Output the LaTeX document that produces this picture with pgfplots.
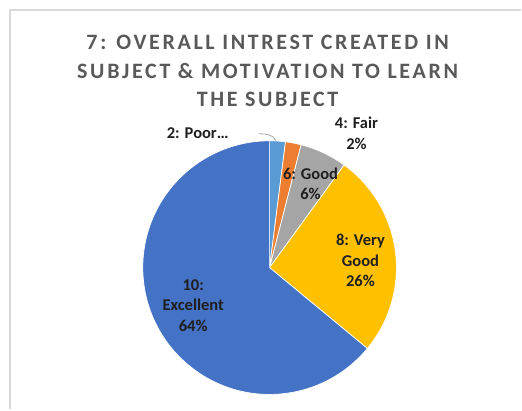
\documentclass[border=0pt]{standalone}
\usepackage{pgfplots}
\usepackage{pgfplotstable}
\usepackage{fontspec}
\pgfplotsset{compat=1.18}
\setmainfont{Carlito}
\newfontfamily\titlefont[LetterSpace=12]{Carlito}
\definecolor{cPoor}{HTML}{5B9BD5}
\definecolor{cFair}{HTML}{ED7D31}
\definecolor{cGood}{HTML}{A5A5A5}
\definecolor{cVeryGood}{HTML}{FFC000}
\definecolor{cExcellent}{HTML}{4472C4}
\definecolor{titlegray}{HTML}{595959}
\definecolor{labeltext}{HTML}{1F1F1F}
\definecolor{framegray}{HTML}{D9D9D9}

\pgfplotstableread{
label pct
Poor 2
Fair 2
Good 6
VeryGood 26
Excellent 64
}\piedata

\def\cum{90}
\pgfplotstableforeachcolumnelement{pct}\of\piedata\as\p{%
  \pgfmathsetmacro\ea{\cum-3.6*\p}%
  \expandafter\xdef\csname sa\pgfplotstablerow\endcsname{\cum}%
  \expandafter\xdef\csname ea\pgfplotstablerow\endcsname{\ea}%
  \xdef\cum{\ea}%
}
\expandafter\def\csname col0\endcsname{cPoor}
\expandafter\def\csname col1\endcsname{cFair}
\expandafter\def\csname col2\endcsname{cGood}
\expandafter\def\csname col3\endcsname{cVeryGood}
\expandafter\def\csname col4\endcsname{cExcellent}

\begin{document}
\begin{tikzpicture}
\begin{axis}[
  hide axis,
  scale only axis,
  x=1pt, y=1pt,
  xmin=0, xmax=522, ymin=0, ymax=410,
  clip=false,
]
\path (axis cs:0,0) rectangle (axis cs:522,410);
\draw[framegray, line width=1.5pt] (axis cs:10,0) -- (axis cs:10,400) -- (axis cs:522,400);
\pgfplotsinvokeforeach{0,...,4}{%
  \filldraw[fill=\csname col#1\endcsname, draw=white, line width=0.7pt]
    (axis cs:270,142) -- ++(\csname sa#1\endcsname:127pt)
    arc[start angle=\csname sa#1\endcsname, end angle=\csname ea#1\endcsname, radius=127pt] -- cycle;
}
\node[align=center, font=\titlefont\bfseries\fontsize{22}{28.5}\selectfont, text=titlegray]
  at (axis cs:268,339) {7: OVERALL INTREST CREATED IN\\SUBJECT \& MOTIVATION TO LEARN\\THE SUBJECT};
\begin{scope}[every node/.style={align=center, font=\bfseries\fontsize{16.5}{20.5}\selectfont, text=labeltext}]
\node at (axis cs:198,277) {2: Poor…};
\node at (axis cs:357,276.5) {4: Fair\\2\%};
\node at (axis cs:311,226) {6: Good\\6\%};
\node at (axis cs:361,149) {8: Very\\Good\\26\%};
\node at (axis cs:193.5,104) {10:\\Excellent\\64\%};
\end{scope}
\draw[gray!70, line width=0.8pt] (axis cs:259,276) to[out=0, in=110] (axis cs:276,269);
\end{axis}
\end{tikzpicture}
\end{document}
